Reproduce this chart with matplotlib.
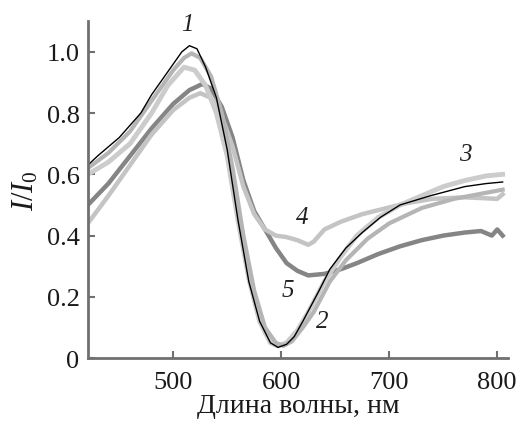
import matplotlib
matplotlib.use("Agg")
import matplotlib.pyplot as plt
from matplotlib import font_manager

plt.rcParams['font.family'] = ['Liberation Serif', 'DejaVu Serif']
plt.rcParams['mathtext.fontset'] = 'custom'
plt.rcParams['mathtext.it'] = 'Liberation Serif:italic'
plt.rcParams['mathtext.rm'] = 'Liberation Serif'
print(font_manager.findfont('Liberation Serif'))

# curve 1 (black, thin)
wl1 = [421, 430, 440, 450, 460, 470, 480, 490, 500, 508, 515, 522, 530, 540, 550, 560, 570, 580, 590, 597,
       605, 612, 620, 635, 645, 660, 675, 692, 710, 738, 770, 790, 805]
i1 = [0.63, 0.66, 0.69, 0.72, 0.76, 0.80, 0.86, 0.91, 0.96, 1.00, 1.02, 1.01, 0.95, 0.85, 0.68, 0.45, 0.25, 0.12, 0.05, 0.035,
      0.045, 0.07, 0.12, 0.22, 0.29, 0.36, 0.41, 0.46, 0.50, 0.53, 0.56, 0.57, 0.575]

# curve 2 (light grey)
wl2 = [421, 440, 460, 480, 500, 510, 517, 525, 535, 545, 555, 565, 575, 585, 595, 602,
       610, 620, 630, 645, 660, 680, 700, 730, 760, 790, 805]
i2 = [0.62, 0.67, 0.74, 0.84, 0.94, 0.98, 0.995, 0.98, 0.92, 0.80, 0.62, 0.40, 0.22, 0.10, 0.05, 0.04,
      0.055, 0.10, 0.15, 0.25, 0.32, 0.39, 0.44, 0.49, 0.52, 0.54, 0.55]

# curve 3 (light grey)
wl3 = [421, 440, 460, 480, 495, 510, 520, 530, 540, 550, 560, 570, 580, 590, 597,
       605, 615, 625, 640, 655, 670, 690, 710, 730, 750, 770, 790, 805]
i3 = [0.60, 0.64, 0.70, 0.80, 0.89, 0.95, 0.94, 0.89, 0.80, 0.66, 0.45, 0.26, 0.12, 0.05, 0.04,
      0.05, 0.09, 0.15, 0.25, 0.33, 0.40, 0.46, 0.50, 0.53, 0.56, 0.58, 0.595, 0.60]

# curve 4 (light grey)
wl4 = [421, 440, 460, 480, 500, 515, 525, 535, 545, 555, 565, 575, 585, 595, 605, 615, 625, 630,
       640, 655, 675, 692, 715, 740, 770, 800, 805]
i4 = [0.44, 0.53, 0.63, 0.73, 0.81, 0.85, 0.865, 0.85, 0.79, 0.69, 0.56, 0.47, 0.42, 0.40, 0.395, 0.385, 0.37, 0.38,
      0.42, 0.445, 0.47, 0.485, 0.505, 0.52, 0.525, 0.52, 0.535]

# curve 5 (dark grey)
wl5 = [421, 440, 460, 480, 500, 515, 527, 535, 545, 555, 565, 575, 585, 595, 605, 615, 625, 640,
       655, 670, 690, 710, 730, 750, 770, 785, 795, 800, 805]
i5 = [0.50, 0.57, 0.66, 0.75, 0.83, 0.875, 0.895, 0.88, 0.82, 0.72, 0.58, 0.48, 0.42, 0.36, 0.31, 0.285, 0.27, 0.275,
      0.29, 0.31, 0.34, 0.365, 0.385, 0.40, 0.41, 0.415, 0.40, 0.42, 0.40]

yticks = [0, 0.2, 0.4, 0.6, 0.8, 1.0]
ytick_labels = ['0', '0.2', '0.4', '0.6', '0.8', '1.0']
xticks = [500, 600, 700, 800]

fig = plt.figure(figsize=(5.2, 4.27), dpi=100)
ax = fig.add_axes([0.169, 0.159, 0.808, 0.789])

ax.plot(wl5, i5, color='#858585', lw=3.2)
ax.plot(wl4, i4, color='#c4c4c4', lw=3.2)
ax.plot(wl3, i3, color='#cccccc', lw=3.5)
ax.plot(wl2, i2, color='#b5b5b5', lw=3.0)
ax.plot(wl1, i1, color='black', lw=1.0)

lab = dict(fontsize=18, style='italic', ha='center', va='center', color='#222222')
ax.text(513, 1.09, '1', clip_on=False, **lab)
ax.text(638, 0.12, '2', **lab)
ax.text(770, 0.665, '3', **lab)
ax.text(619, 0.46, '4', **lab)
ax.text(606, 0.224, '5', **lab)

ax.set_xlim(421, 810)
ax.set_ylim(0, 1.1)
ax.set_xticks(xticks)
ax.set_yticks(yticks)
ax.set_yticklabels(ytick_labels)

for s in ['top', 'right']:
    ax.spines[s].set_visible(False)
for s in ['left', 'bottom']:
    ax.spines[s].set_color('#707070')
    ax.spines[s].set_linewidth(2)
ax.tick_params(direction='in', length=5, width=1.5, color='#707070', labelsize=19, labelcolor='#1a1a1a')
ax.tick_params(axis='x', pad=9)
ax.tick_params(axis='y', pad=6)

ax.set_xlabel('Длина волны, нм', fontsize=20, color='#1a1a1a', labelpad=0)
ax.set_ylabel('$I/I_0$', fontsize=22, color='#1a1a1a', labelpad=4)

fig.savefig('out.png', dpi=100)
